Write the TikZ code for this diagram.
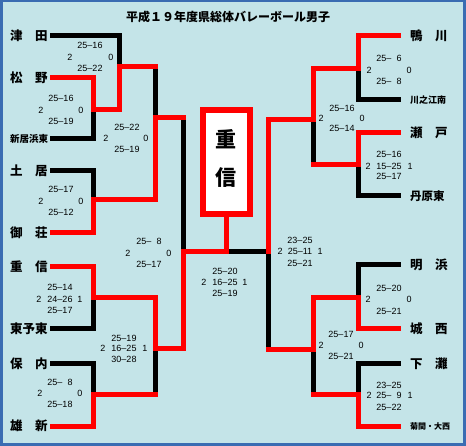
\documentclass[tikz,border=0pt]{standalone}
\usepackage{fontspec}
\setmainfont{Liberation Sans}
\newfontfamily\jp{Noto Sans CJK JP}
\definecolor{bgc}{RGB}{196,228,232}
\definecolor{framec}{RGB}{58,108,178}
\definecolor{rd}{RGB}{255,0,0}
\begin{document}
\begin{tikzpicture}[x=1pt,y=-1pt,
  win/.style={draw=rd,line width=5pt,line join=miter,line cap=rect},
  lose/.style={draw=black,line width=5pt,line join=miter,line cap=rect},
  team/.style={font=\jp\bfseries\fontsize{12.5}{12.5}\selectfont,inner sep=0pt,anchor=west},
  teams/.style={font=\jp\bfseries\fontsize{9.5}{9.5}\selectfont,inner sep=0pt,anchor=west},
  sc/.style={font=\fontsize{9}{9}\selectfont,inner sep=0pt},
  ttl/.style={font=\jp\bfseries\fontsize{12}{12}\selectfont,inner sep=0pt},
  big/.style={font=\jp\bfseries\fontsize{21}{21}\selectfont,inner sep=0pt},
]
\useasboundingbox (0,0) rectangle (466,446);
\fill[framec] (0,0) rectangle (466,446);
\fill[bgc] (3,2) rectangle (463,443);

\node[ttl] (title) at (228,17) {平成１９年度県総体バレーボール男子};

% ---------- team names ----------
\node[team]  (n1) at (10,36)  {津　田};
\node[team]  (n2) at (10,78)  {松　野};
\node[teams] (n3) at (10,139) {新居浜東};
\node[team]  (n4) at (10,171) {土　居};
\node[team]  (n5) at (10,233) {御　荘};
\node[team]  (n6) at (10,267) {重　信};
\node[team]  (n7) at (10,329) {東予東};
\node[team]  (n8) at (10,364) {保　内};
\node[team]  (n9) at (10,426) {雄　新};

\node[team]  (m1) at (410,36)  {鴨　川};
\node[teams,font=\jp\bfseries\fontsize{9}{9}\selectfont] (m2) at (410,100) {川之江南};
\node[team]  (m3) at (410,133) {瀬　戸};
\node[team,font=\jp\bfseries\fontsize{11.5}{11.5}\selectfont] (m4) at (410,196) {丹原東};
\node[team]  (m5) at (410,265) {明　浜};
\node[team]  (m6) at (410,329) {城　西};
\node[team]  (m7) at (410,364) {下　灘};
\node[teams,font=\jp\bfseries\fontsize{8}{8}\selectfont] (m8) at (410,426) {菊間・大西};

% ---------- line starts ----------
\coordinate (a1) at (52,36);  \coordinate (a2) at (52,78);  \coordinate (a3) at (52,139);
\coordinate (a4) at (52,171); \coordinate (a5) at (52,233); \coordinate (a6) at (52,267);
\coordinate (a7) at (52,329); \coordinate (a8) at (52,364); \coordinate (a9) at (52,426);
\coordinate (b1) at (398,36);  \coordinate (b2) at (398,100); \coordinate (b3) at (398,133);
\coordinate (b4) at (398,196); \coordinate (b5) at (398,265); \coordinate (b6) at (398,329);
\coordinate (b7) at (398,364); \coordinate (b8) at (398,426);

% ---------- junctions ----------
\coordinate (j1) at (93,110);  \coordinate (j2) at (119,67);  \coordinate (j3) at (93,200);
\coordinate (j4) at (155,118); \coordinate (j5) at (93,298);  \coordinate (j6) at (93,394);
\coordinate (j7) at (155,349); \coordinate (j8) at (183,252); \coordinate (f) at (226,252);
\coordinate (k1) at (358,69);  \coordinate (k2) at (313,120); \coordinate (k3) at (358,165);
\coordinate (k4) at (268,252); \coordinate (k5) at (358,298); \coordinate (k6) at (358,394);
\coordinate (k7) at (313,350);

% ---------- losers (black) ----------
\draw[lose] (a1) -| (j2);
\draw[lose] (a3) -| (j1);
\draw[lose] (155,67) -- (j4);
\draw[lose] (a4) -| (j3);
\draw[lose] (183,118) -- (j8);
\draw[lose] (a7) -| (j5);
\draw[lose] (a8) -| (j6);
\draw[lose] (155,394) -- (j7);
\draw[lose] (b2) -| (k1);
\draw[lose] (k2) -- (313,165);
\draw[lose] (b4) -| (k3);
\draw[lose] (k4) -- (268,350);
\draw[lose] (k4) -- (f);
\draw[lose] (b5) -| (k5);
\draw[lose] (b7) -| (k6);
\draw[lose] (k7) -- (313,394);

% ---------- winners (red) ----------
\draw[win] (a2) -| (j1) -| (j2) -- (155,67);
\draw[win] (a5) -| (j3) -- (155,200) -- (j4) -- (183,118);
\draw[win] (a6) -| (j5) -- (155,298) -- (j7) -- (183,349) -- (j8) -- (f);
\draw[win] (a9) -| (j6) -- (155,394);
\draw[win] (b1) -| (k1) -| (k2) -- (268,120) -- (k4);
\draw[win] (b3) -| (k3) -- (313,165);
\draw[win] (b6) -| (k5) -| (k7) -- (268,350);
\draw[win] (b8) -| (k6) -- (313,394);

% ---------- champion ----------
\node[draw=rd,line width=6pt,fill=white,minimum width=47pt,minimum height=104pt,inner sep=0pt] (champ) at (226,162) {};
\node[big] (c1) at (226,139) {重};
\node[big] (c2) at (226,178) {信};
\draw[win,line cap=butt] (champ.south) -- (f);

% ---------- scores ----------
% left
\node[sc] at (90,45) {25–16}; \node[sc] at (70,57) {2}; \node[sc] at (111,57) {0}; \node[sc] at (90,68) {25–22};
\node[sc] at (61,98) {25–16}; \node[sc] at (41,110) {2}; \node[sc] at (81,110) {0}; \node[sc] at (61,121) {25–19};
\node[sc] at (127,127) {25–22}; \node[sc] at (106,138) {2}; \node[sc] at (146,138) {0}; \node[sc] at (127,149) {25–19};
\node[sc] at (61,189) {25–17}; \node[sc] at (41,201) {2}; \node[sc] at (81,201) {0}; \node[sc] at (61,212) {25–12};
\node[sc] at (149,241) {25–\phantom{1}8}; \node[sc] at (128,253) {2}; \node[sc] at (169,253) {0}; \node[sc] at (149,264) {25–17};
\node[sc] at (60,287) {25–14}; \node[sc] at (39,299) {2}; \node[sc] at (60,299) {24–26}; \node[sc] at (80,299) {1}; \node[sc] at (60,310) {25–17};
\node[sc] at (124,338) {25–19}; \node[sc] at (103,348) {2}; \node[sc] at (124,348) {16–25}; \node[sc] at (145,348) {1}; \node[sc] at (124,359) {30–28};
\node[sc] at (60,382) {25–\phantom{1}8}; \node[sc] at (40,393) {2}; \node[sc] at (80,393) {0}; \node[sc] at (60,404) {25–18};
% final
\node[sc] at (225,271) {25–20}; \node[sc] at (204,282) {2}; \node[sc] at (225,282) {16–25}; \node[sc] at (245,282) {1}; \node[sc] at (225,293) {25–19};
% right
\node[sc] at (389,58) {25–\phantom{1}6}; \node[sc] at (369,70) {2}; \node[sc] at (409,70) {0}; \node[sc] at (389,81) {25–\phantom{1}8};
\node[sc] at (342,108) {25–16}; \node[sc] at (321,118) {2}; \node[sc] at (362,118) {0}; \node[sc] at (342,128) {25–14};
\node[sc] at (389,154) {25–16}; \node[sc] at (368,166) {2}; \node[sc] at (389,166) {15–25}; \node[sc] at (410,166) {1}; \node[sc] at (389,176) {25–17};
\node[sc] at (300,240) {23–25}; \node[sc] at (280,251) {2}; \node[sc] at (300,251) {25–11}; \node[sc] at (320,251) {1}; \node[sc] at (300,263) {25–21};
\node[sc] at (389,288) {25–20}; \node[sc] at (368,299) {2}; \node[sc] at (409,299) {0}; \node[sc] at (389,311) {25–21};
\node[sc] at (341,334) {25–17}; \node[sc] at (321,345) {2}; \node[sc] at (361,345) {0}; \node[sc] at (341,356) {25–21};
\node[sc] at (389,385) {23–25}; \node[sc] at (369,395) {2}; \node[sc] at (389,395) {25–\phantom{1}9}; \node[sc] at (410,395) {1}; \node[sc] at (389,407) {25–22};
\end{tikzpicture}
\end{document}
